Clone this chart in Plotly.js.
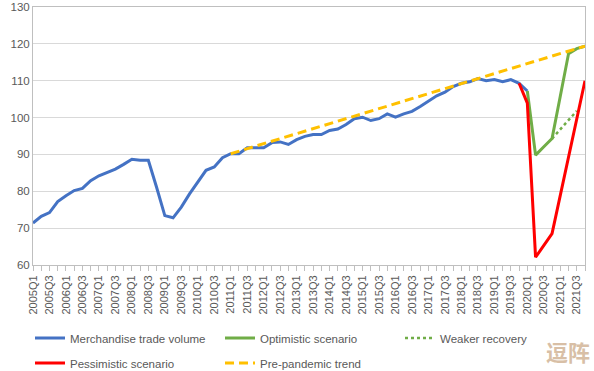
<!DOCTYPE html>
<html>
<head>
<meta charset="utf-8">
<script src="https://cdn.plot.ly/plotly-3.0.1.min.js"></script>
<style>html,body{margin:0;padding:0;background:#fff}#chart{width:594px;height:371px}</style>
</head>
<body>
<div id="chart"></div>
<script>
const quarters = [
 '2005Q1','2005Q2','2005Q3','2005Q4','2006Q1','2006Q2','2006Q3','2006Q4',
 '2007Q1','2007Q2','2007Q3','2007Q4','2008Q1','2008Q2','2008Q3','2008Q4',
 '2009Q1','2009Q2','2009Q3','2009Q4','2010Q1','2010Q2','2010Q3','2010Q4',
 '2011Q1','2011Q2','2011Q3','2011Q4','2012Q1','2012Q2','2012Q3','2012Q4',
 '2013Q1','2013Q2','2013Q3','2013Q4','2014Q1','2014Q2','2014Q3','2014Q4',
 '2015Q1','2015Q2','2015Q3','2015Q4','2016Q1','2016Q2','2016Q3','2016Q4',
 '2017Q1','2017Q2','2017Q3','2017Q4','2018Q1','2018Q2','2018Q3','2018Q4',
 '2019Q1','2019Q2','2019Q3','2019Q4','2020Q1','2020Q2','2020Q3','2020Q4',
 '2021Q1','2021Q2','2021Q3','2021Q4'
];
const tradeX = quarters.slice(0, 61);
const tradeVolume = [71.4,73.2,74.2,77.2,78.8,80.2,80.8,82.9,84.2,85.0,86.0,87.3,88.7,88.4,88.4,
 81.1,73.4,72.8,75.7,79.3,82.4,85.7,86.6,89.1,90.2,90.2,91.8,91.8,91.8,93.2,93.4,92.7,
 94.0,94.9,95.4,95.4,96.5,96.9,98.1,99.7,100.1,99.2,99.7,101.0,100.1,101.0,101.7,103.0,
 104.5,105.9,106.9,108.4,109.3,109.7,110.6,110.0,110.3,109.7,110.3,109.3,107.2];
const optimisticX = ['2020Q1','2020Q2','2020Q3','2020Q4','2021Q1','2021Q2','2021Q3','2021Q4'];
const optimistic = [107.2,89.8,92.1,94.3,105.8,117.3,118.7,119.4];
const weakerX = ['2020Q4','2021Q1','2021Q2','2021Q3'];
const weaker = [94.3,96.8,99.3,101.8];
const pessimisticX = ['2019Q4','2020Q1','2020Q2','2020Q3','2020Q4','2021Q1','2021Q2','2021Q3','2021Q4'];
const pessimistic = [109.3,103.9,62.1,65.3,68.5,78.9,89.3,99.6,110.0];
const trendX = ['2011Q1','2021Q4'];
const trend = [90.2,119.4];
const yTicks = [60,70,80,90,100,110,120,130];
const tickLabels = quarters.map(q => (q.endsWith('Q1') || q.endsWith('Q3')) ? q : '');

const FONT = 'Liberation Sans, Arial, sans-serif';
const TXT = '#595959';

const traces = [
 {x: tradeX, y: tradeVolume, name: 'Merchandise trade volume', mode: 'lines', line: {color: '#4472C4', width: 3}, legend: 'legend'},
 {x: optimisticX, y: optimistic, name: 'Optimistic scenario', mode: 'lines', line: {color: '#70AD47', width: 3}, legend: 'legend'},
 {x: weakerX, y: weaker, name: 'Weaker recovery', mode: 'lines', line: {color: '#70AD47', width: 2.5, dash: 'dot'}, legend: 'legend3'},
 {x: pessimisticX, y: pessimistic, name: 'Pessimistic scenario', mode: 'lines', line: {color: '#FF0000', width: 3}, legend: 'legend2'},
 {x: trendX, y: trend, name: 'Pre-pandemic trend', mode: 'lines', line: {color: '#FFC000', width: 3, dash: '9px,5px'}, legend: 'legend2'}
];

const legendBase = {
 orientation: 'h', xref: 'container', yref: 'container', xanchor: 'left', yanchor: 'middle',
 entrywidth: 145, entrywidthmode: 'pixels', font: {family: FONT, size: 11.5, color: TXT}, bgcolor: 'rgba(0,0,0,0)'
};

const layout = {
 width: 594, height: 371,
 margin: {l: 33, r: 9, t: 7, b: 106},
 paper_bgcolor: '#fff', plot_bgcolor: '#fff',
 showlegend: true,
 legend: Object.assign({}, legendBase, {x: 30/594, y: 1 - 338/371}),
 legend2: Object.assign({}, legendBase, {x: 30/594, y: 1 - 363/371}),
 legend3: Object.assign({}, legendBase, {x: 400/594, y: 1 - 338/371}),
 xaxis: {
  type: 'category', categoryorder: 'array', categoryarray: quarters,
  range: [0, quarters.length - 1],
  tickmode: 'array', tickvals: quarters, ticktext: tickLabels,
  tickangle: -90, ticks: 'outside', ticklen: 5, tickcolor: '#bfbfbf',
  tickfont: {family: FONT, size: 11, color: TXT},
  showgrid: false, showline: true, linecolor: '#bfbfbf', linewidth: 1, mirror: true,
  zeroline: false, fixedrange: true
 },
 yaxis: {
  range: [60, 130], tickmode: 'array', tickvals: yTicks, ticklabeloverflow: 'allow',
  tickfont: {family: FONT, size: 11.5, color: TXT},
  showgrid: true, gridcolor: '#d9d9d9', gridwidth: 1,
  showline: true, linecolor: '#bfbfbf', linewidth: 1, mirror: true,
  zeroline: false, ticks: '', fixedrange: true
 },
 annotations: [{
  text: '<b>逗阵</b>', xref: 'paper', yref: 'paper', x: 1.0127, y: -0.403,
  xanchor: 'right', yanchor: 'bottom',
  showarrow: false, font: {family: 'Noto Sans CJK SC', size: 22, color: '#d8bfa6'}
 }]
};

Plotly.newPlot('chart', traces, layout, {displayModeBar: false, staticPlot: true});
</script>
</body>
</html>
